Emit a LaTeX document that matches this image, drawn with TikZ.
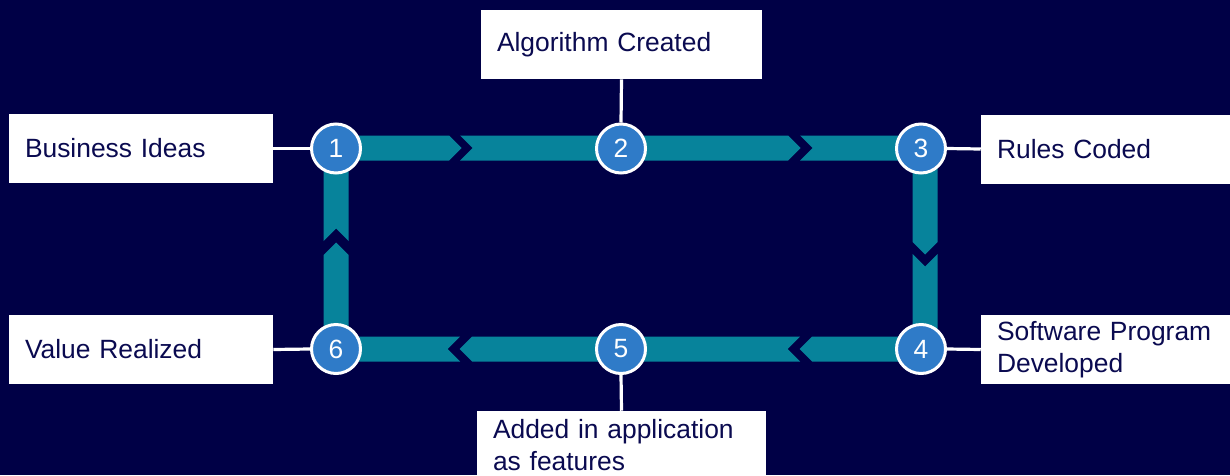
\documentclass[tikz,border=0pt]{standalone}
\usepackage{fontspec}
\setmainfont{Liberation Sans}
\usepackage{tikz}
\usetikzlibrary{calc,positioning}

\definecolor{navybg}{HTML}{000046}
\definecolor{navytext}{HTML}{0A0A50}
\definecolor{tealbar}{HTML}{07839B}
\definecolor{stepblue}{HTML}{2F7BC8}

\begin{document}
\begin{tikzpicture}[x=0.75pt,y=-0.75pt,inner sep=0pt]
      % Styles
      \tikzset{bar/.style={fill=tealbar,draw=none},
               stepdot/.style={circle,fill=stepblue,draw=white,line width=2.25pt,
                 minimum size=36.75pt,text=white,font=\fontsize{19.8}{24}\selectfont},
               labelbox/.style={fill=white,text=navytext,align=left,inner xsep=12pt,
                 inner ysep=0pt,minimum height=51.75pt,
                 font=\fontsize{19.8}{24}\selectfont},
               link/.style={white,line width=2.4pt}}

      % background and page size
      \fill[navybg] (0,0) rectangle (1230,475);
      \useasboundingbox (0,0) rectangle (1230,475);
      \clip (0,0) rectangle (1230,475);

      % top row of chevron bars
      \fill[bar] (336,135.5) -- (449,135.5) -- (461.5,148) -- (449,160.5) -- (336,160.5) -- cycle;
      \fill[bar] (460,135.5) -- (788,135.5) -- (800.5,148) -- (788,160.5) -- (460,160.5) -- (472.5,148) -- cycle;
      \fill[bar] (800,135.5) -- (925,135.5) -- (925,160.5) -- (800,160.5) -- (812.5,148) -- cycle;
      % right column
      \fill[bar] (912.5,148) -- (937.5,148) -- (937.5,242) -- (925,254.5) -- (912.5,242) -- cycle;
      \fill[bar] (912.5,254) -- (925,266.5) -- (937.5,254) -- (937.5,349) -- (912.5,349) -- cycle;
      % bottom row
      \fill[bar] (921,336.5) -- (812,336.5) -- (799.5,349) -- (812,361.5) -- (921,361.5) -- cycle;
      \fill[bar] (800,336.5) -- (787.5,349) -- (800,361.5) -- (472,361.5) -- (459.5,349) -- (472,336.5) -- cycle;
      \fill[bar] (460,336.5) -- (447.5,349) -- (460,361.5) -- (336,361.5) -- (336,336.5) -- cycle;
      % left column
      \fill[bar] (323.5,349) -- (323.5,255) -- (336,242.5) -- (348.5,255) -- (348.5,349) -- cycle;
      \fill[bar] (323.5,241) -- (336,228.5) -- (348.5,241) -- (348.5,148) -- (323.5,148) -- cycle;

      % numbered steps
      \foreach \n/\x/\y in {1/336/148.5,2/621/148.5,3/921/148.5,4/921/349,5/621/349,6/336/349}{%
        \node[stepdot] (c\n) at (\x,\y) {\n};
      }

      % text boxes
      \node[labelbox,text width=174pt] (b1) at (141,148.5) {Business Ideas};
      \node[labelbox,text width=186.75pt] (b2) at (621.5,44.5) {Algorithm Created};
      \node[labelbox,text width=170.25pt] (b3) at (1110.5,149) {Rules Coded};
      \node[labelbox,text width=170.25pt] (b4) at (1110.5,349.5) {Software Program\\Developed};
      \node[labelbox,text width=192.75pt] (b5) at (621.5,445.5) {Added in application\\as features};
      \node[labelbox,text width=174pt] (b6) at (141,349.5) {Value Realized};

      % links from boxes to steps
      \draw[link] (b1.east) -- (c1.west);
      \draw[link] (b2.south) -- (c2.north);
      \draw[link] (c3.east) -- (b3.west);
      \draw[link] (c4.east) -- (b4.west);
      \draw[link] (c5.south) -- (b5.north);
      \draw[link] (b6.east) -- (c6.west);
\end{tikzpicture}
\end{document}
